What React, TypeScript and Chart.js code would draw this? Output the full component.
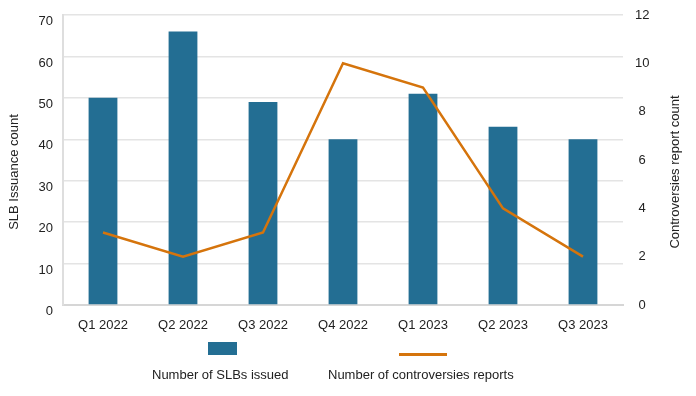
import React, { useEffect, useRef } from "react";
import { Chart, registerables } from "chart.js";

Chart.register(...registerables);

const categories = ["Q1 2022", "Q2 2022", "Q3 2022", "Q4 2022", "Q1 2023", "Q2 2023", "Q3 2023"];
const slbIssued = [50, 66, 49, 40, 51, 43, 40];
const controversies = [3, 2, 3, 10, 9, 4, 2];
const leftTitle = "SLB Issuance count";
const rightTitle = "Controversies report count";
const barLabel = "Number of SLBs issued";
const lineLabel = "Number of controversies reports";

const FONT = "'Liberation Sans', Arial, Helvetica, sans-serif";
const BAR_COLOR = "#236e93";
const LINE_COLOR = "#d5740c";
const TEXT_COLOR = "#222222";
const GRID_COLOR = "#e4e4e4";

const axisTitlesPlugin = {
  id: "axisTitles",
  afterDraw(chart: any) {
    const ctx = chart.ctx;
    const draw = (text: string, x: number, y: number) => {
      ctx.save();
      ctx.font = `13px ${FONT}`;
      ctx.fillStyle = TEXT_COLOR;
      ctx.textAlign = "center";
      ctx.textBaseline = "middle";
      ctx.translate(x, y);
      ctx.rotate(-Math.PI / 2);
      ctx.fillText(text, 0, 0);
      ctx.restore();
    };
    draw(leftTitle, 14, 172);
    draw(rightTitle, 675, 172);
  },
};

const zeroPad = (s: any) => {
  s.paddingTop = 0;
  s.paddingBottom = 0;
  s.paddingLeft = 0;
  s.paddingRight = 0;
};

export default function App() {
  const ref = useRef<HTMLCanvasElement | null>(null);

  useEffect(() => {
    if (!ref.current) return;
    const chart = new Chart(ref.current, {
      type: "bar",
      data: {
        labels: categories,
        datasets: [
          {
            type: "line",
            label: lineLabel,
            data: controversies,
            yAxisID: "y1",
            borderColor: LINE_COLOR,
            backgroundColor: LINE_COLOR,
            borderWidth: 2.5,
            pointRadius: 0,
            tension: 0,
            order: 1,
          } as any,
          {
            type: "bar",
            label: barLabel,
            data: slbIssued,
            yAxisID: "y",
            backgroundColor: BAR_COLOR,
            borderWidth: 0,
            categoryPercentage: 1,
            barPercentage: 0.36,
            order: 2,
          } as any,
        ],
      },
      options: {
        responsive: false,
        animation: false,
        layout: { padding: { top: 15, bottom: 61, left: 0, right: 0 } },
        plugins: { legend: { display: false }, tooltip: { enabled: false } },
        scales: {
          x: {
            offset: true,
            grid: { display: false, drawTicks: false },
            border: { display: true, color: "#d6d6d6", width: 2 },
            ticks: { color: TEXT_COLOR, font: { family: FONT, size: 13 }, padding: 13, maxRotation: 0 },
            afterFit(s: any) {
              s.height = 30;
              zeroPad(s);
            },
          },
          y: {
            position: "left",
            min: 0,
            max: 70,
            ticks: { stepSize: 10, color: TEXT_COLOR, font: { family: FONT, size: 13 }, padding: 10, align: "start" },
            grid: { color: GRID_COLOR, lineWidth: 1.5, drawTicks: false },
            border: { display: true, color: "#dedede", width: 2 },
            afterFit(s: any) {
              s.width = 63;
              zeroPad(s);
            },
          },
          y1: {
            position: "right",
            min: 0,
            max: 12,
            ticks: {
              stepSize: 2,
              color: TEXT_COLOR,
              font: { family: FONT, size: 13 },
              padding: 12,
              crossAlign: "center",
            },
            grid: { display: false, drawTicks: false },
            border: { display: false },
            afterFit(s: any) {
              s.width = 73;
              zeroPad(s);
            },
          },
        },
      } as any,
      plugins: [axisTitlesPlugin],
    });
    return () => chart.destroy();
  }, []);

  const textStyle: React.CSSProperties = {
    position: "absolute",
    top: 367,
    fontFamily: FONT,
    fontSize: 13,
    lineHeight: "16px",
    color: TEXT_COLOR,
    whiteSpace: "nowrap",
  };

  return (
    <div style={{ position: "fixed", left: 0, top: 0, width: 696, height: 396, background: "#fff" }}>
      <canvas ref={ref} width={696} height={396} style={{ width: 696, height: 396, display: "block" }} />
      <div style={{ position: "absolute", left: 208, top: 342, width: 29, height: 13, background: BAR_COLOR }} />
      <div style={{ position: "absolute", left: 399, top: 353, width: 48, height: 3, background: LINE_COLOR }} />
      <div style={{ ...textStyle, left: 152 }}>{barLabel}</div>
      <div style={{ ...textStyle, left: 328 }}>{lineLabel}</div>
    </div>
  );
}
